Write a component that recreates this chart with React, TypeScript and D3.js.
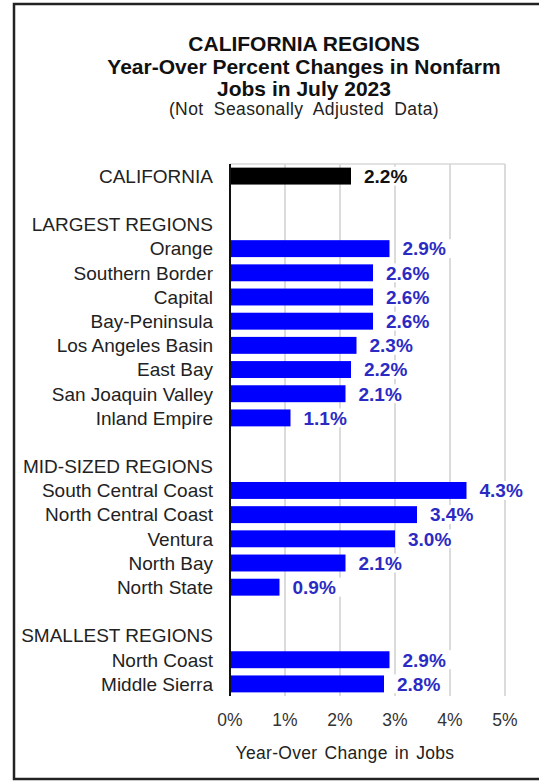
import React from 'react';
import * as d3 from 'd3';

// rows from top to bottom; '' marks a spacer row
const rowLabels = [
  'CALIFORNIA', '', 'LARGEST REGIONS',
  'Orange', 'Southern Border', 'Capital', 'Bay-Peninsula', 'Los Angeles Basin',
  'East Bay', 'San Joaquin Valley', 'Inland Empire', '',
  'MID-SIZED REGIONS',
  'South Central Coast', 'North Central Coast', 'Ventura', 'North Bay', 'North State', '',
  'SMALLEST REGIONS',
  'North Coast', 'Middle Sierra',
];
const rowValues: (number | null)[] = [
  2.2, null, null,
  2.9, 2.6, 2.6, 2.6, 2.3, 2.2, 2.1, 1.1, null,
  null,
  4.3, 3.4, 3.0, 2.1, 0.9, null,
  null,
  2.9, 2.8,
];
const xTicks = [0, 1, 2, 3, 4, 5];
const titleLines = ['CALIFORNIA REGIONS', 'Year-Over Percent Changes in Nonfarm', 'Jobs in July 2023'];
const subtitle = '(Not Seasonally Adjusted Data)';
const xTitle = 'Year-Over Change in Jobs';

const FONT = '"Liberation Sans", Arial, sans-serif';

export default function App() {
  const width = 539;
  const height = 781;
  const plot = { left: 230, right: 505, top: 164, bottom: 696 };

  const x = d3.scaleLinear().domain([0, 5]).range([plot.left, plot.right]);
  const y = d3
    .scaleBand<number>()
    .domain(d3.range(rowLabels.length))
    .range([plot.top, plot.bottom])
    .paddingInner(0.3)
    .paddingOuter(0.15);

  const bw = y.bandwidth();
  const titleX = 304;
  const titleBase = [51, 74, 96];

  return (
    <svg
      width={width}
      height={height}
      style={{ position: 'absolute', left: 0, top: 0, background: '#fff' }}
      fontFamily={FONT}
    >
      {/* frame */}
      <rect x={14} y={4} width={600} height={775} fill="none" stroke="#222" strokeWidth={2.5} />

      {/* title */}
      {titleLines.map((t, i) => (
        <text key={i} x={titleX} y={titleBase[i]} textAnchor="middle" fontSize={21} fontWeight="bold" fill="#111">
          {t}
        </text>
      ))}
      <text x={titleX} y={115} textAnchor="middle" fontSize={17.5} wordSpacing={5} letterSpacing={0.4} fill="#222">
        {subtitle}
      </text>

      {/* grid */}
      {xTicks.slice(1).map(t => (
        <line key={t} x1={x(t)} x2={x(t)} y1={plot.top} y2={plot.bottom} stroke="#cfcfcf" strokeWidth={1.5} />
      ))}
      <line x1={plot.left} x2={plot.right} y1={plot.top} y2={plot.top} stroke="#d8d8d8" strokeWidth={1.5} />

      {/* bars */}
      {rowValues.map((v, i) =>
        v == null ? null : (
          <rect
            key={i}
            x={x(0)}
            y={y(i)!}
            width={x(v) - x(0)}
            height={bw}
            fill={i === 0 ? '#000' : '#0000ff'}
          />
        )
      )}

      {/* value labels */}
      {rowValues.map((v, i) =>
        v == null ? null : (
          <g key={i}>
            <rect x={x(v) + 8} y={y(i)! - 1} width={54} height={bw + 2} fill="#fff" />
            <text
              x={x(v) + 13}
              y={y(i)! + bw / 2}
              dy="0.36em"
              fontSize={19}
              fontWeight="bold"
              fill={i === 0 ? '#111' : '#2b2bc4'}
            >
              {v.toFixed(1)}%
            </text>
          </g>
        )
      )}

      {/* axis line */}
      <line x1={plot.left} x2={plot.left} y1={plot.top} y2={plot.bottom} stroke="#111" strokeWidth={2} />

      {/* row labels */}
      {rowLabels.map((l, i) =>
        l === '' ? null : (
          <text
            key={i}
            x={213}
            y={y(i)! + bw / 2}
            dy="0.36em"
            textAnchor="end"
            fontSize={19}
            fill="#222"
          >
            {l}
          </text>
        )
      )}

      {/* x tick labels */}
      {xTicks.map(t => (
        <text key={t} x={x(t)} y={726} textAnchor="middle" fontSize={17.5} fill="#333">
          {t}%
        </text>
      ))}
      <text x={345} y={759} textAnchor="middle" fontSize={17.5} wordSpacing={2} letterSpacing={0.3} fill="#222">
        {xTitle}
      </text>
    </svg>
  );
}
